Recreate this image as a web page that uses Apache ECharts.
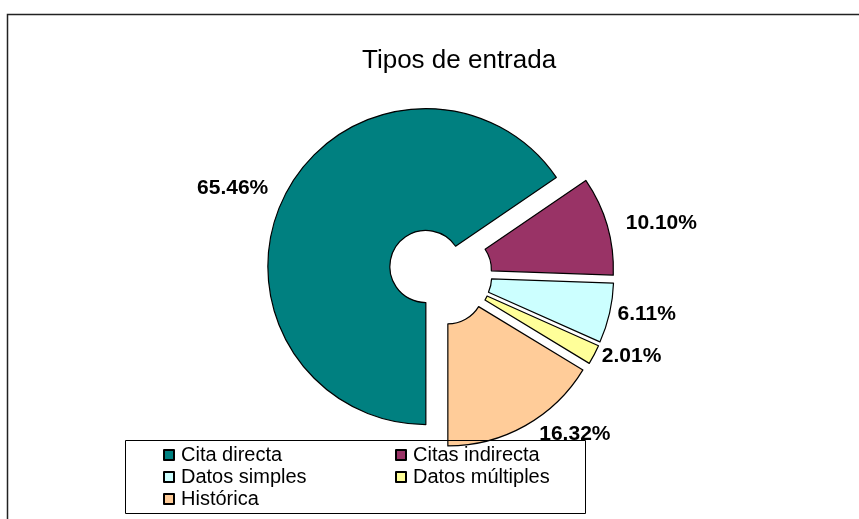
<!DOCTYPE html>
<html>
<head>
<meta charset="utf-8">
<script src="https://cdn.jsdelivr.net/npm/echarts@6/dist/echarts.min.js"></script>
<style>
	html, body { margin: 0; padding: 0; background: #fff; }
	#chart { width: 859px; height: 519px; }
</style>
</head>
<body>
<div id="chart"></div>
<script>
// datos del grafico
var categories = ['Cita directa', 'Citas indirecta', 'Datos simples', 'Datos múltiples', 'Histórica'];
var percents = [65.46, 10.10, 6.11, 2.01, 16.32];
var colors = ['#008080', '#993366', '#CCFFFF', '#FFFF99', '#FFCC99'];

var FONT = '"Liberation Sans", Arial, sans-serif';

function drawPie(chart) {
	var data = [];
	for (var i = 0; i < categories.length; i++) {
		var item = {
			name : categories[i],
			value : percents[i],
			selected : true,
			itemStyle : { color : colors[i] }
		};
		// etiquetas pequeñas mas pegadas al sector
		if (percents[i] < 8) {
			item.labelLine = { length : 3, length2 : 0 };
		}
		data.push(item);
	}

	chart.setOption({
		animation : false,
		title : {
			text : 'Tipos de entrada',
			left : 362,
			top : 48,
			padding : 0,
			textStyle : {
				fontFamily : FONT,
				fontSize : 26,
				fontWeight : 'normal',
				color : '#000'
			}
		},
		legend : {
			data : categories,
			orient : 'horizontal',
			left : 163,
			top : 444,
			width : 470,
			padding : 0,
			itemGap : 0,
			itemWidth : 10,
			itemHeight : 10,
			icon : 'rect',
			selectedMode : false,
			textStyle : {
				fontFamily : FONT,
				fontSize : 20,
				color : '#000',
				width : 214,
				lineHeight : 22,
				padding : [0, 0, 0, 2]
			}
		},
		graphic : [ {
			type : 'polyline',
			shape : { points : [ [7.5, 520], [7.5, 14.5], [860, 14.5] ] },
			style : { stroke : '#222', lineWidth : 1.5, fill : null }
		}, {
			type : 'rect',
			shape : { x : 125.5, y : 440.5, width : 460, height : 73 },
			style : { stroke : '#000', lineWidth : 1, fill : null },
			z : 10
		} ],
		series : [ {
			name : 'Tipos de entrada',
			type : 'pie',
			center : [440, 274],
			radius : [36, 158],
			startAngle : 270,
			clockwise : true,
			selectedMode : 'multiple',
			selectedOffset : 16,
			avoidLabelOverlap : false,
			emphasis : { disabled : true },
			itemStyle : {
				borderColor : '#000',
				borderWidth : 1.2
			},
			label : {
				show : true,
				position : 'outside',
				formatter : function(p) {
					return p.value.toFixed(2) + '%';
				},
				fontFamily : FONT,
				fontSize : 21,
				fontWeight : 'bold',
				color : '#000'
			},
			labelLine : {
				show : false,
				length : 10,
				length2 : 4
			},
			data : data
		} ]
	});
}

var myChart = echarts.init(document.getElementById('chart'), null, { renderer : 'canvas' });
drawPie(myChart);
</script>
</body>
</html>
